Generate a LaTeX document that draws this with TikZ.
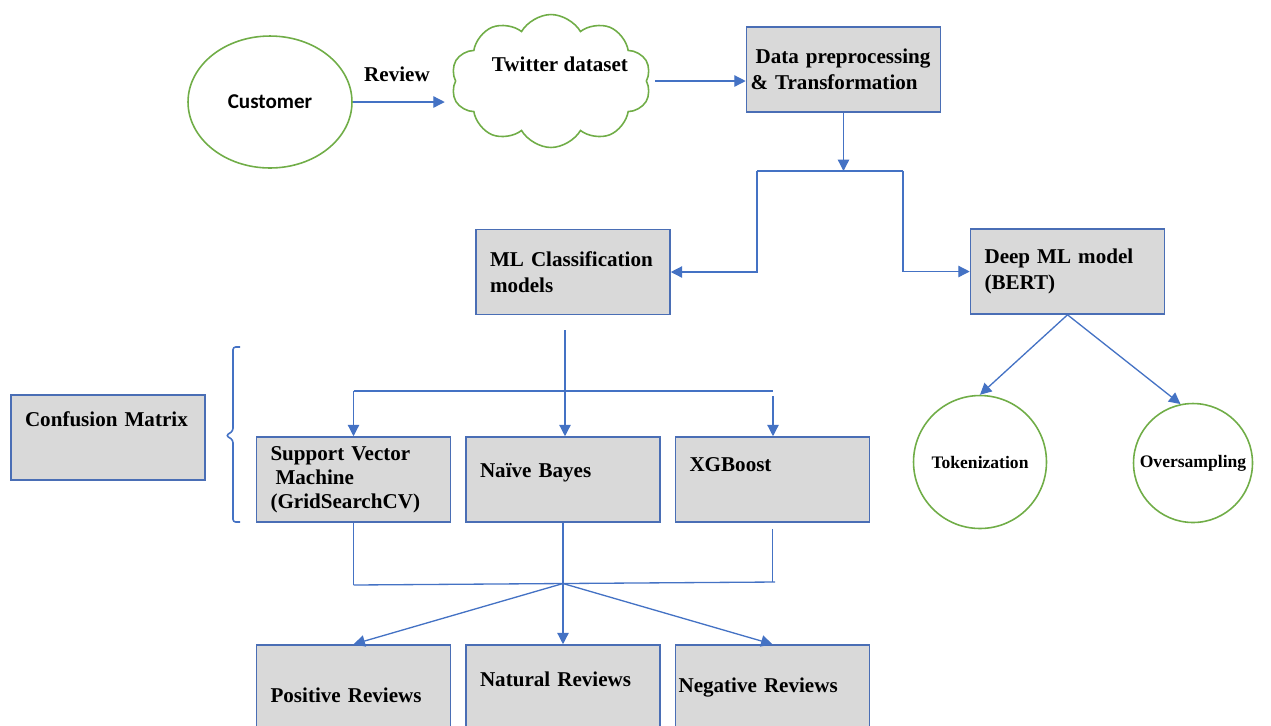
\documentclass[tikz,border=0pt]{standalone}
\usepackage{fontspec}
\setmainfont{Liberation Serif}
\newfontfamily\calfont{Carlito}
\usetikzlibrary{arrows.meta,calc,shapes.geometric,shapes.symbols}
\definecolor{edgebl}{HTML}{4A6EB5}
\definecolor{arrbl}{HTML}{4472C4}
\definecolor{grn}{HTML}{70AD47}
\definecolor{boxgr}{HTML}{D9D9D9}

\begin{document}
\begin{tikzpicture}[
        x=0.02cm, y=-0.02cm,
        box/.style={rectangle, draw=edgebl, fill=boxgr, line width=0.9pt,
            minimum width=3.88cm, minimum height=1.7cm, text width=3.32cm,
            inner xsep=0.28cm, align=left,
            font=\bfseries\fontsize{12}{14.5}\selectfont},
        tshift/.code={\pgfmathsetlengthmacro\tbh{20pt-(#1)}%
            \pgfmathsetlengthmacro\tbd{12pt+(#1)}%
            \tikzset{text height=\tbh, text depth=\tbd}},
        ring/.style={draw=grn, line width=0.9pt, fill=white},
        lbl/.style={inner sep=0pt, font=\bfseries\fontsize{12}{14}\selectfont},
        line/.style={draw=arrbl, line width=0.75pt},
        arr/.style={line, -{Triangle[width=6.5pt,length=6.5pt]}},
    ]
\useasboundingbox (0,0) rectangle (1271,725);

% source of the reviews
\node[ellipse, ring, minimum width=3.28cm, minimum height=2.64cm,
    font=\calfont\bfseries\fontsize{12}{14}\selectfont] (customer) at (270,102) {Customer};
\node[cloud, ring, cloud puffs=10, cloud puff arc=120, aspect=1.5,
    minimum width=4.0cm, minimum height=2.66cm] (twitter) at (551,81) {};
\node[lbl] (twlabel) at (560,64) {Twitter dataset};
\node[lbl] (review) at (397,74) {Review};
\node[box, text width=3.72cm, inner xsep=0.08cm] (prep) at (843.5,69.5)
    {\hspace*{0.1cm}Data preprocessing\\\& Transformation};

% the two model families
\node[box] (ml) at (573,272) {ML Classification\\models};
\node[box] (deep) at (1067.5,271.5) {Deep ML model\\(BERT)};

% classifiers
\node[box, tshift=10.5pt] (confusion) at (108,437.5) {Confusion Matrix};
\node[box, font=\bfseries\fontsize{12}{13.7}\selectfont] (svm) at (353.5,479.5)
    {Support Vector\\\hspace*{0.1cm}Machine\\(GridSearchCV)};
\node[box, tshift=5.4pt] (nb) at (563,479.5) {Naïve Bayes};
\node[box, tshift=8.3pt] (xgb) at (772.5,479.5) {XGBoost};

% results
\node[box, tshift=-4.3pt] (positive) at (353.5,687.5) {Positive Reviews};
\node[box, tshift=4.8pt] (natural) at (563,687.5) {Natural Reviews};
\node[box, tshift=1.4pt] (negative) at (772.5,687.5) {\hspace*{-0.22cm}Negative Reviews};

% BERT steps
\node[circle, ring, minimum size=2.66cm, inner sep=1pt,
    font=\bfseries\fontsize{10}{12}\selectfont] (token) at (980,462) {Tokenization};
\node[circle, ring, minimum size=2.38cm, inner sep=1pt,
    font=\bfseries\fontsize{10}{12}\selectfont] (over) at (1193,463) {Oversampling};

% top flow
\draw[arr] (customer.east) -- ([xshift=-0.2cm]customer.east -| twitter.west);
\draw[arr] ([xshift=0.16cm]twitter.east) -- (twitter.east -| prep.west);

\coordinate (split) at (843.5,171);
\coordinate (lsplit) at (757,171);
\coordinate (rsplit) at (903,171);
\draw[arr] (prep.south) -- (split);
\draw[line] (lsplit) -- (rsplit);
\draw[arr] (lsplit) |- (ml.east);
\draw[arr] (rsplit) |- (deep.west);

% fan out to the classifiers
\coordinate (mlout) at (565,330);
\coordinate (fanl) at (353.5,391);
\coordinate (fanr) at (773,391);
\draw[arr] (mlout) -- (mlout |- nb.north);
\draw[line] (fanl) -- (fanr);
\draw[arr] (fanl) -- (fanl |- svm.north);
\draw[arr] ([yshift=-0.1cm]fanr) -- (fanr |- xgb.north);

% bracket
\draw[line, line width=0.9pt, rounded corners=1.5pt] (240,347) -- (233,347) -- (233,431)
    -- (226,435.5) -- (233,440) -- (233,522) -- (240,522);

% join and results
\coordinate (joinl) at (353.5,585);
\coordinate (joinm) at (563,583.5);
\coordinate (joinr) at (775,582);
\draw[line] (svm.south) -- (joinl);
\draw[line] (nb.south) -- (joinm);
\draw[line] ([yshift=-0.12cm]xgb.south) -- (xgb.south |- joinr);
\draw[line] (joinl) -- (joinr);
\draw[arr] (joinm) -- (positive.north);
\draw[arr] (joinm) -- (natural.north);
\draw[arr] (joinm) -- (negative.north);

% BERT branches
\draw[arr] (deep.south) -- (token.north);
\draw[arr] (deep.south) -- (over.102);
\end{tikzpicture}
\end{document}
